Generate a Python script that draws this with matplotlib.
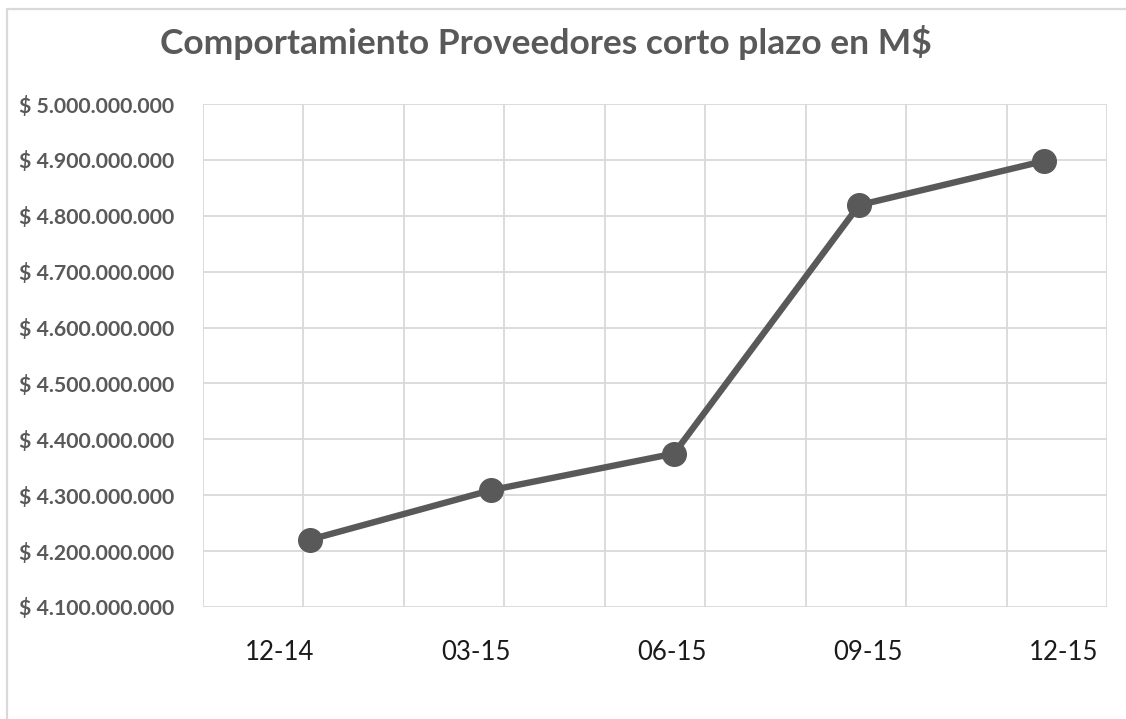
import matplotlib
matplotlib.use("Agg")
import matplotlib.pyplot as plt
import numpy as np
import pandas as pd

title = "Comportamiento Proveedores corto plazo en M$"
dates = ["2014-12-31", "2015-03-31", "2015-06-30", "2015-09-30", "2015-12-31"]
values = [4.2205e9, 4.309e9, 4.3745e9, 4.819e9, 4.898e9]
x_labels = ["12-14", "03-15", "06-15", "09-15", "12-15"]
y_min, y_max, y_step = 4.1e9, 5.0e9, 1.0e8

d = pd.to_datetime(dates)
days = np.array((d - d[0]).days, dtype=float)

GRAY = "#595959"
GRID = "#d9d9d9"

fig = plt.figure(figsize=(11.26, 7.19), dpi=100)
W, H = 1126, 719
ax = fig.add_axes([203 / W, 1 - 607 / H, (1107 - 203) / W, (607 - 104) / H])

x0, x1 = -53.2, 396.3
ax.set_xlim(x0, x1)
ax.set_ylim(y_min, y_max)

ax.plot(days, values, color=GRAY, lw=4.6, marker="o", ms=17, mfc=GRAY, mec=GRAY,
        solid_capstyle="round", zorder=3, clip_on=False)

# grid
for gx in np.linspace(x0, x1, 10):
    ax.axvline(gx, color=GRID, lw=1.3, zorder=1)
yt = np.arange(y_min, y_max + 1, y_step)
for gy in yt:
    ax.axhline(gy, color=GRID, lw=1.3, zorder=1)

for s in ax.spines.values():
    s.set_visible(False)

ax.set_yticks(yt)
ax.set_yticklabels(["$ " + f"{v:,.0f}".replace(",", ".") for v in yt],
                   fontsize=15.3, fontweight="bold", color=GRAY, family="Lato")
ax.tick_params(axis="y", length=0, pad=21)

label_pos = np.linspace(-14.9, 374.9, len(x_labels))
ax.set_xticks(label_pos)
ax.set_xticklabels(x_labels, fontsize=18.5, color="#1a1a1a", family="Lato")
ax.tick_params(axis="x", length=0, pad=24)

fig.text(546 / W, 1 - 42 / H, title, ha="center", va="center", fontsize=25.5,
         fontweight="bold", color=GRAY, family="Lato")

# chart border
fig.add_artist(plt.Rectangle((7 / W, -10 / H), (1200 - 7) / W, (709.5 + 10) / H,
                             transform=fig.transFigure, fill=False,
                             edgecolor=GRID, lw=1.6))

fig.savefig("out.png", dpi=100, facecolor="white")
